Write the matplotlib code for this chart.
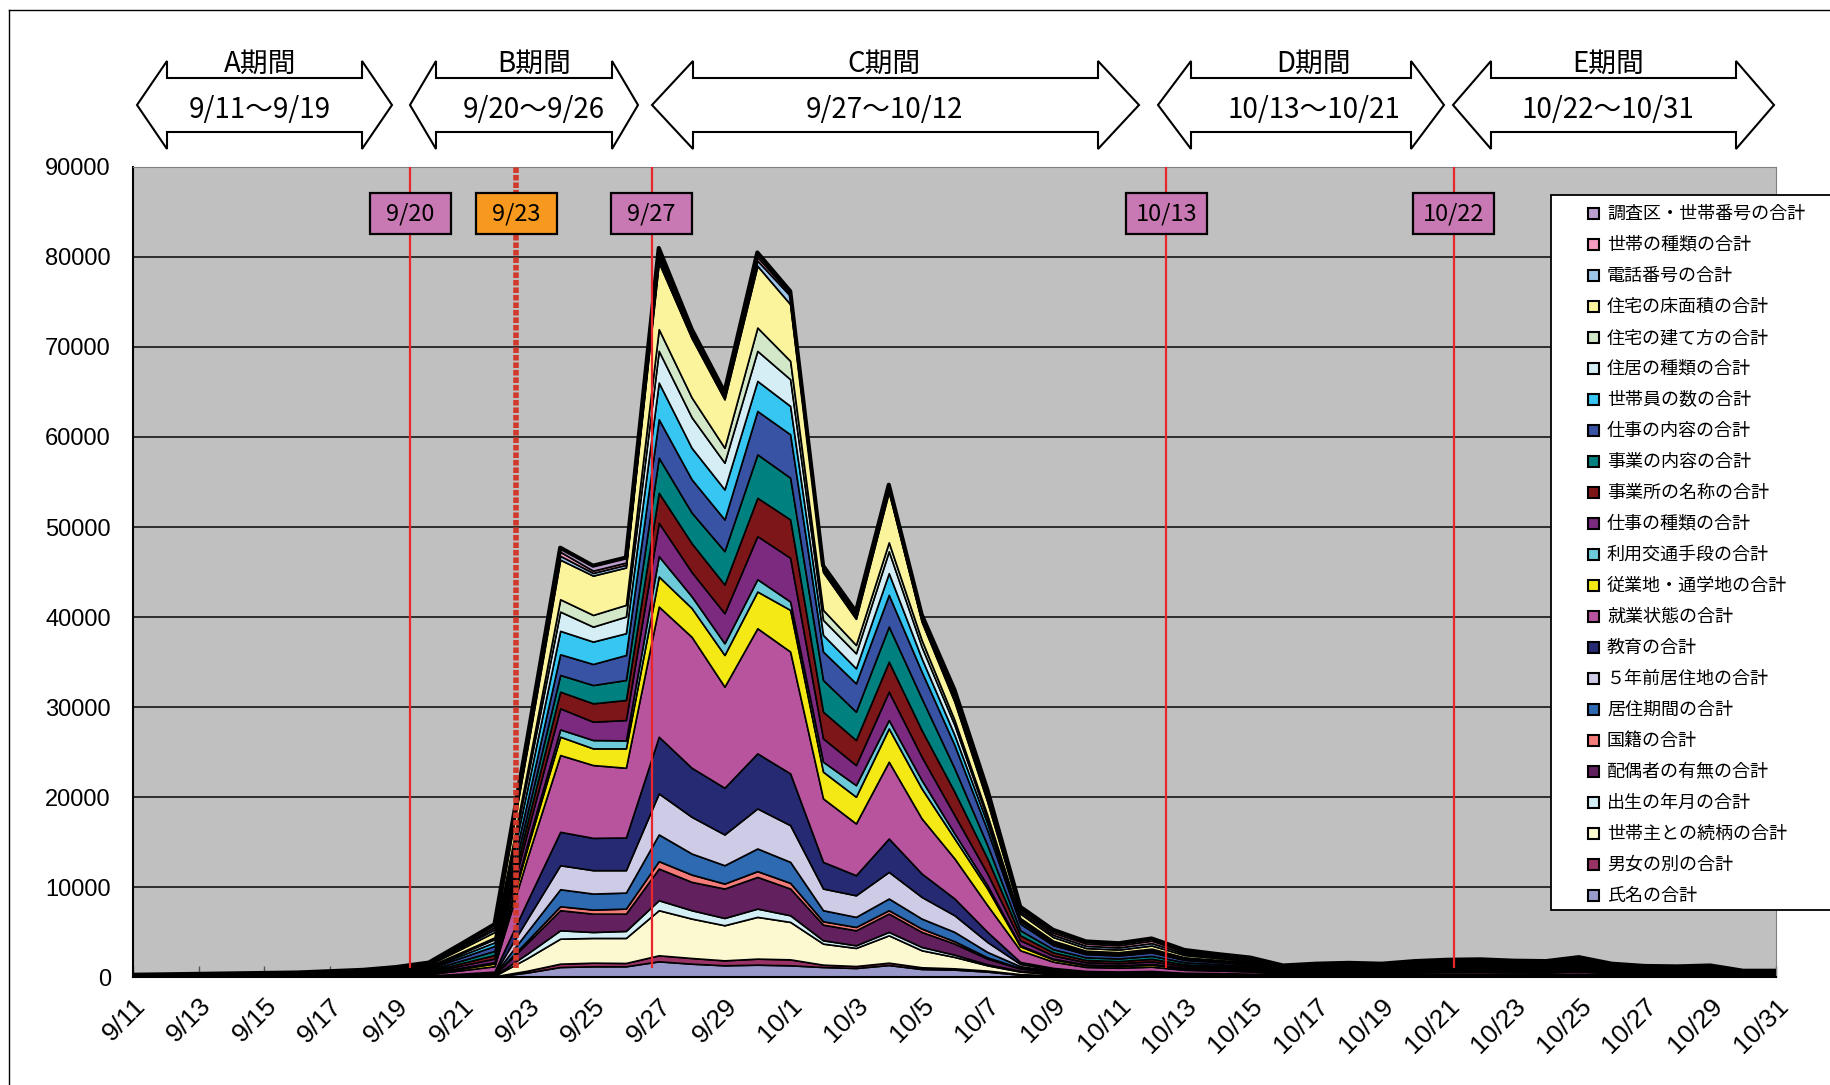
import numpy as np
import matplotlib
matplotlib.use('Agg')
from matplotlib import pyplot as plt
from matplotlib.patches import Polygon, Rectangle
from matplotlib.transforms import blended_transform_factory

plt.rcParams['font.family'] = ['Noto Sans CJK JP', 'DejaVu Sans']

# 9/11 .. 10/31
dates = ['9/%d' % d for d in range(11, 31)] + ['10/%d' % d for d in range(1, 32)]

# series, bottom -> top
shimei = [2, 2, 3, 3, 4, 4, 5, 6,
          10, 15, 30, 50, 500, 1110, 1190, 1190, 1740, 1480, 1300, 1370, 1300, 1110, 1000, 1330, 890, 820, 600, 250, 150, 100, 90, 100, 70,
          65, 55, 33, 38, 40, 38, 45, 49, 50, 46, 45, 56, 38, 31, 30, 33, 18, 18]
danjo = [1, 1, 1, 2, 2, 2, 3, 3,
         5, 10, 20, 30, 200, 370, 400, 370, 670, 630, 550, 670, 660, 260, 220, 260, 190, 140, 110, 70, 50, 30, 30, 30, 20,
         21, 18, 10, 12, 13, 12, 14, 16, 16, 15, 14, 18, 12, 10, 10, 10, 6, 6]
zokugara = [2, 2, 3, 3, 4, 4, 5, 6,
            10, 15, 30, 50, 1400, 2780, 2750, 2780, 5010, 4380, 3900, 4640, 4160, 2340, 2010, 3040, 1890, 1270, 590, 280, 150, 100, 90, 100, 70,
            65, 55, 33, 38, 40, 38, 45, 49, 50, 46, 45, 56, 38, 31, 30, 33, 18, 18]
shussei = [1, 1, 1, 2, 2, 2, 3, 3,
           5, 10, 20, 30, 500, 930, 660, 780, 1110, 930, 810, 920, 740, 370, 290, 380, 370, 250, 110, 80, 50, 30, 30, 30, 20,
           21, 18, 10, 12, 13, 12, 14, 16, 16, 15, 14, 18, 12, 10, 10, 10, 6, 6]
haigusha = [3, 4, 4, 5, 5, 6, 8, 10,
            15, 20, 50, 80, 1200, 2230, 2040, 1920, 3520, 3150, 3270, 3520, 2970, 1740, 1670, 2040, 1670, 1230, 630, 270, 150, 100, 90, 100, 70,
            65, 55, 33, 38, 40, 38, 45, 49, 50, 46, 45, 56, 38, 31, 30, 33, 18, 18]
kokuseki = [1, 1, 1, 2, 2, 2, 3, 3,
            5, 10, 20, 30, 250, 440, 450, 560, 820, 810, 550, 640, 630, 370, 370, 370, 370, 260, 150, 50, 40, 30, 30, 30, 20,
            21, 18, 10, 12, 13, 12, 14, 16, 16, 15, 14, 18, 12, 10, 10, 10, 6, 6]
kyoju_kikan = [3, 4, 4, 5, 5, 6, 8, 10,
               15, 20, 50, 80, 1000, 1890, 1780, 1780, 2970, 2340, 2040, 2520, 2330, 1230, 1120, 1300, 1110, 1040, 590, 200, 120, 80, 70, 80, 60,
               52, 44, 26, 30, 32, 30, 36, 39, 40, 37, 36, 45, 30, 25, 24, 26, 14, 14]
gonen_mae = [4, 5, 6, 6, 7, 8, 10, 13,
             20, 25, 60, 100, 1400, 2670, 2600, 2490, 4560, 4080, 3420, 4450, 4080, 2410, 2400, 2960, 2410, 1850, 1110, 250, 150, 100, 90, 100, 70,
             65, 55, 33, 38, 40, 38, 45, 49, 50, 46, 45, 56, 38, 31, 30, 33, 18, 18]
kyoiku = [6, 7, 8, 10, 11, 12, 16, 19,
          25, 40, 90, 150, 2000, 3710, 3590, 3630, 6300, 5450, 5190, 6120, 5750, 2960, 2230, 3710, 2600, 1860, 1120, 220, 150, 100, 90, 100, 70,
          65, 55, 33, 38, 40, 38, 45, 49, 50, 46, 45, 56, 38, 31, 30, 33, 18, 18]
shugyo_jotai = [25, 30, 35, 40, 45, 50, 65, 80,
                110, 160, 380, 600, 4800, 8530, 8090, 7750, 14460, 14550, 11230, 13900, 13540, 7050, 5750, 8530, 6120, 4450, 2960, 1300, 700, 450, 420, 480, 330,
                286, 242, 143, 165, 176, 165, 198, 215, 220, 204, 198, 248, 165, 138, 132, 143, 77, 77]
jugyochi = [12, 14, 17, 19, 22, 24, 31, 38,
            55, 80, 190, 300, 1100, 2040, 1850, 2150, 3340, 3200, 3520, 4080, 4630, 2970, 2970, 3700, 3330, 2220, 1860, 440, 250, 200, 190, 230, 160,
            130, 110, 65, 75, 80, 75, 90, 98, 100, 93, 90, 113, 75, 63, 60, 65, 35, 35]
kotsu = [7, 8, 10, 11, 13, 14, 18, 22,
         30, 40, 100, 150, 450, 810, 930, 890, 2260, 1300, 1300, 1370, 930, 1110, 1290, 930, 930, 560, 370, 110, 80, 70, 70, 80, 50,
         47, 40, 23, 27, 29, 27, 32, 35, 36, 33, 32, 41, 27, 23, 22, 23, 13, 13]
shigoto_shurui = [17, 20, 24, 27, 31, 34, 44, 54,
                  75, 110, 250, 400, 1300, 2340, 2040, 2260, 3710, 2700, 3340, 4790, 4860, 2590, 2230, 3160, 2600, 2040, 1300, 560, 350, 250, 240, 280, 200,
                  169, 143, 85, 98, 104, 98, 117, 127, 130, 120, 117, 146, 98, 81, 78, 85, 46, 46]
jigyosho = [17, 20, 24, 27, 31, 34, 44, 54,
            75, 110, 250, 400, 1050, 1850, 2040, 2230, 3340, 3200, 3190, 4260, 4260, 2970, 2780, 3330, 2960, 2590, 1670, 550, 350, 250, 240, 280, 200,
            169, 143, 85, 98, 104, 98, 117, 127, 130, 120, 117, 146, 98, 81, 78, 85, 46, 46]
jigyo_naiyo = [19, 23, 27, 30, 34, 38, 49, 61,
               85, 125, 290, 450, 1050, 1860, 2030, 2220, 3890, 3400, 3710, 4820, 4640, 3520, 3150, 3900, 3530, 2600, 1480, 560, 350, 300, 290, 330, 230,
               195, 165, 98, 113, 120, 113, 135, 146, 150, 139, 135, 169, 113, 94, 90, 98, 53, 53]
shigoto_naiyo = [24, 29, 34, 38, 43, 48, 62, 77,
                 105, 150, 350, 550, 1300, 2300, 2340, 2780, 4270, 3700, 3520, 4820, 4820, 3160, 3150, 3520, 2960, 2590, 1670, 740, 450, 350, 330, 380, 260,
                 221, 187, 111, 128, 136, 128, 153, 166, 170, 157, 153, 191, 128, 106, 102, 111, 60, 60]
setaiin = [17, 20, 24, 27, 31, 34, 44, 54,
           75, 110, 250, 400, 1450, 2600, 2490, 2420, 4080, 3500, 3340, 3340, 3150, 1850, 1670, 2410, 1480, 1120, 740, 260, 200, 150, 150, 170, 120,
           104, 88, 52, 60, 64, 60, 72, 78, 80, 74, 72, 90, 60, 50, 48, 52, 28, 28]
jukyo = [15, 18, 21, 24, 27, 30, 39, 48,
         65, 95, 220, 350, 1200, 2140, 1660, 1850, 3520, 3400, 2970, 3340, 2970, 1670, 1670, 2430, 1300, 1110, 560, 230, 200, 150, 140, 160, 110,
         96, 81, 48, 56, 59, 56, 67, 72, 74, 68, 67, 83, 56, 46, 44, 48, 26, 26]
tatekata = [9, 11, 13, 14, 16, 18, 23, 29,
            40, 55, 130, 200, 780, 1370, 1300, 1300, 2410, 2200, 1660, 2590, 2040, 1110, 930, 1000, 740, 550, 370, 140, 100, 80, 80, 90, 60,
            52, 44, 26, 30, 32, 30, 36, 39, 40, 37, 36, 45, 30, 25, 24, 26, 14, 14]
yukamenseki = [26, 31, 36, 42, 47, 52, 68, 83,
               115, 165, 380, 600, 2500, 4400, 4370, 4150, 7420, 6600, 5380, 6860, 6300, 4210, 2900, 5600, 2040, 2040, 1480, 490, 400, 300, 290, 350, 250,
               208, 176, 104, 120, 128, 120, 144, 156, 160, 148, 144, 180, 120, 100, 96, 104, 56, 56]
denwa = [13, 16, 18, 21, 23, 26, 34, 42,
         55, 80, 190, 300, 350, 430, 300, 300, 500, 400, 260, 580, 930, 250, 250, 300, 260, 410, 430, 250, 250, 250, 240, 270, 190,
         156, 132, 78, 90, 96, 90, 108, 117, 120, 111, 108, 135, 90, 75, 72, 78, 42, 42]
setai_shurui = [11, 13, 15, 18, 20, 22, 29, 35,
                50, 70, 160, 250, 350, 450, 250, 250, 500, 300, 250, 400, 260, 200, 250, 250, 250, 450, 450, 250, 250, 250, 240, 270, 190,
                156, 132, 78, 90, 96, 90, 108, 117, 120, 111, 108, 135, 90, 75, 72, 78, 42, 42]
chosaku = [13, 16, 18, 21, 23, 26, 34, 42,
           55, 85, 190, 300, 370, 450, 550, 550, 600, 300, 300, 500, 250, 250, 300, 250, 270, 450, 450, 250, 300, 230, 220, 240, 180,
           120, 101, 60, 69, 74, 69, 83, 90, 92, 85, 83, 104, 69, 58, 55, 60, 32, 32]

names = ['氏名の合計', '男女の別の合計', '世帯主との続柄の合計', '出生の年月の合計', '配偶者の有無の合計',
         '国籍の合計', '居住期間の合計', '５年前居住地の合計', '教育の合計', '就業状態の合計',
         '従業地・通学地の合計', '利用交通手段の合計', '仕事の種類の合計', '事業所の名称の合計',
         '事業の内容の合計', '仕事の内容の合計', '世帯員の数の合計', '住居の種類の合計',
         '住宅の建て方の合計', '住宅の床面積の合計', '電話番号の合計', '世帯の種類の合計',
         '調査区・世帯番号の合計']
colors = ['#9999CC', '#993366', '#FCF8D0', '#D4EEF5', '#62205F',
          '#F37C7B', '#2E6AB2', '#CECBE6', '#262A72', '#B8549E',
          '#F5E915', '#6DCAD9', '#7B2A80', '#7D1619',
          '#00817F', '#3953A4', '#37C5F2', '#D5EEF5',
          '#D3E8C8', '#FBF49C', '#9DC5EA', '#F59AC0',
          '#BBA0CF']

period_names = ['A期間', 'B期間', 'C期間', 'D期間', 'E期間']
period_ranges = ['9/11〜9/19', '9/20〜9/26', '9/27〜10/12', '10/13〜10/21', '10/22〜10/31']

marker_labels = ['9/20', '9/23', '9/27', '10/13', '10/22']
marker_pos = [8.44, 11.67, 15.78, 31.45, 40.19]
marker_fill = ['#C879B4', '#F7991E', '#C879B4', '#C879B4', '#C879B4']

series = [shimei, danjo, zokugara, shussei, haigusha, kokuseki, kyoju_kikan, gonen_mae,
          kyoiku, shugyo_jotai, jugyochi, kotsu, shigoto_shurui, jigyosho, jigyo_naiyo,
          shigoto_naiyo, setaiin, jukyo, tatekata, yukamenseki, denwa, setai_shurui, chosaku]

W, H = 1831, 1085
fig = plt.figure(figsize=(W / 100, H / 100), dpi=100)
ax = fig.add_axes([133 / W, 108 / H, (1776 - 133) / W, (977 - 167) / H])
ax.set_facecolor('#C0C0C0')

x = np.arange(len(dates))
ax.stackplot(x, *series, colors=colors, edgecolor='black', linewidth=1.2, zorder=2)
ax.plot(x, np.sum(series, axis=0), color='black', lw=3, zorder=3)

ax.set_xlim(0, len(dates) - 1)
ax.set_ylim(0, 90000)
ax.set_axisbelow(True)
ax.yaxis.grid(True, color='#222222', lw=1.3)

ax.set_yticks(range(0, 90001, 10000))
ax.set_yticklabels([str(v) for v in range(0, 90001, 10000)], family=['Liberation Sans', 'DejaVu Sans'], fontsize=17)
ax.set_xticks(x[::2])
ax.set_xticklabels(dates[::2], rotation=45, ha='right', rotation_mode='anchor',
                   family=['Liberation Sans', 'DejaVu Sans'], fontsize=19)
ax.tick_params(axis='x', direction='in', length=8, width=1, color='#555555', pad=12)
ax.tick_params(axis='y', direction='in', length=0, pad=16)
for s in ('top', 'right'):
    ax.spines[s].set_color('#808080')
for s in ('left', 'bottom'):
    ax.spines[s].set_color('black')
    ax.spines[s].set_linewidth(1.5)

# date markers
trans = blended_transform_factory(ax.transData, ax.transAxes)
for pos, lab, fc in zip(marker_pos, marker_labels, marker_fill):
    if lab == '9/23':
        ax.vlines(pos, 1000, 90000, colors='#D0392B', lw=4, linestyles=(0, (1.0, 0.35)), zorder=4)
    else:
        ax.vlines(pos, 1000, 90000, colors='#E8262B', lw=1.6, zorder=4)
    ax.add_patch(Rectangle((pos - 1.23, 0.917), 2.46, 0.0507, transform=trans,
                           facecolor=fc, edgecolor='black', lw=1.6, zorder=5))
    ax.text(pos, 0.942, lab, transform=trans, ha='center', va='center', fontsize=17, zorder=6)

# overlay in pixel coordinates for arrows, legend and frame
ov = fig.add_axes([0, 0, 1, 1])
ov.set_xlim(0, W)
ov.set_ylim(H, 0)
ov.set_axis_off()

arrow_left = [137, 410, 652, 1158, 1453]
arrow_right = [392, 638, 1139, 1444, 1774]
arrow_head = [30, 26, 41, 33, 38]
label_cx = [260, 534, 884, 1314, 1608]
for l, r, h, cx, nm, rg in zip(arrow_left, arrow_right, arrow_head, label_cx, period_names, period_ranges):
    pts = [(l, 105), (l + h, 61), (l + h, 78), (r - h, 78), (r - h, 61),
           (r, 105), (r - h, 149), (r - h, 132), (l + h, 132), (l + h, 149)]
    ov.add_patch(Polygon(pts, closed=True, facecolor='white', edgecolor='black', lw=1.5))
    ov.text(cx, 64, nm, ha='center', va='center', fontsize=20)
    ov.text(cx, 110, rg, ha='center', va='center', fontsize=20)

ov.add_patch(Rectangle((1551, 195), 320, 715, facecolor='white', edgecolor='black', lw=1.3))
for i, (nm, col) in enumerate(zip(names[::-1], colors[::-1])):
    y = 214 + 31 * i
    ov.add_patch(Rectangle((1588, y - 6), 11, 11, facecolor=col, edgecolor='black', lw=1.5))
    ov.text(1607, y, nm, ha='left', va='center', fontsize=13)

ov.plot([9.5, 9.5], [H, 9.5], color='black', lw=1)
ov.plot([9.5, W], [9.5, 9.5], color='black', lw=1)

fig.savefig('out.png', dpi=100)
